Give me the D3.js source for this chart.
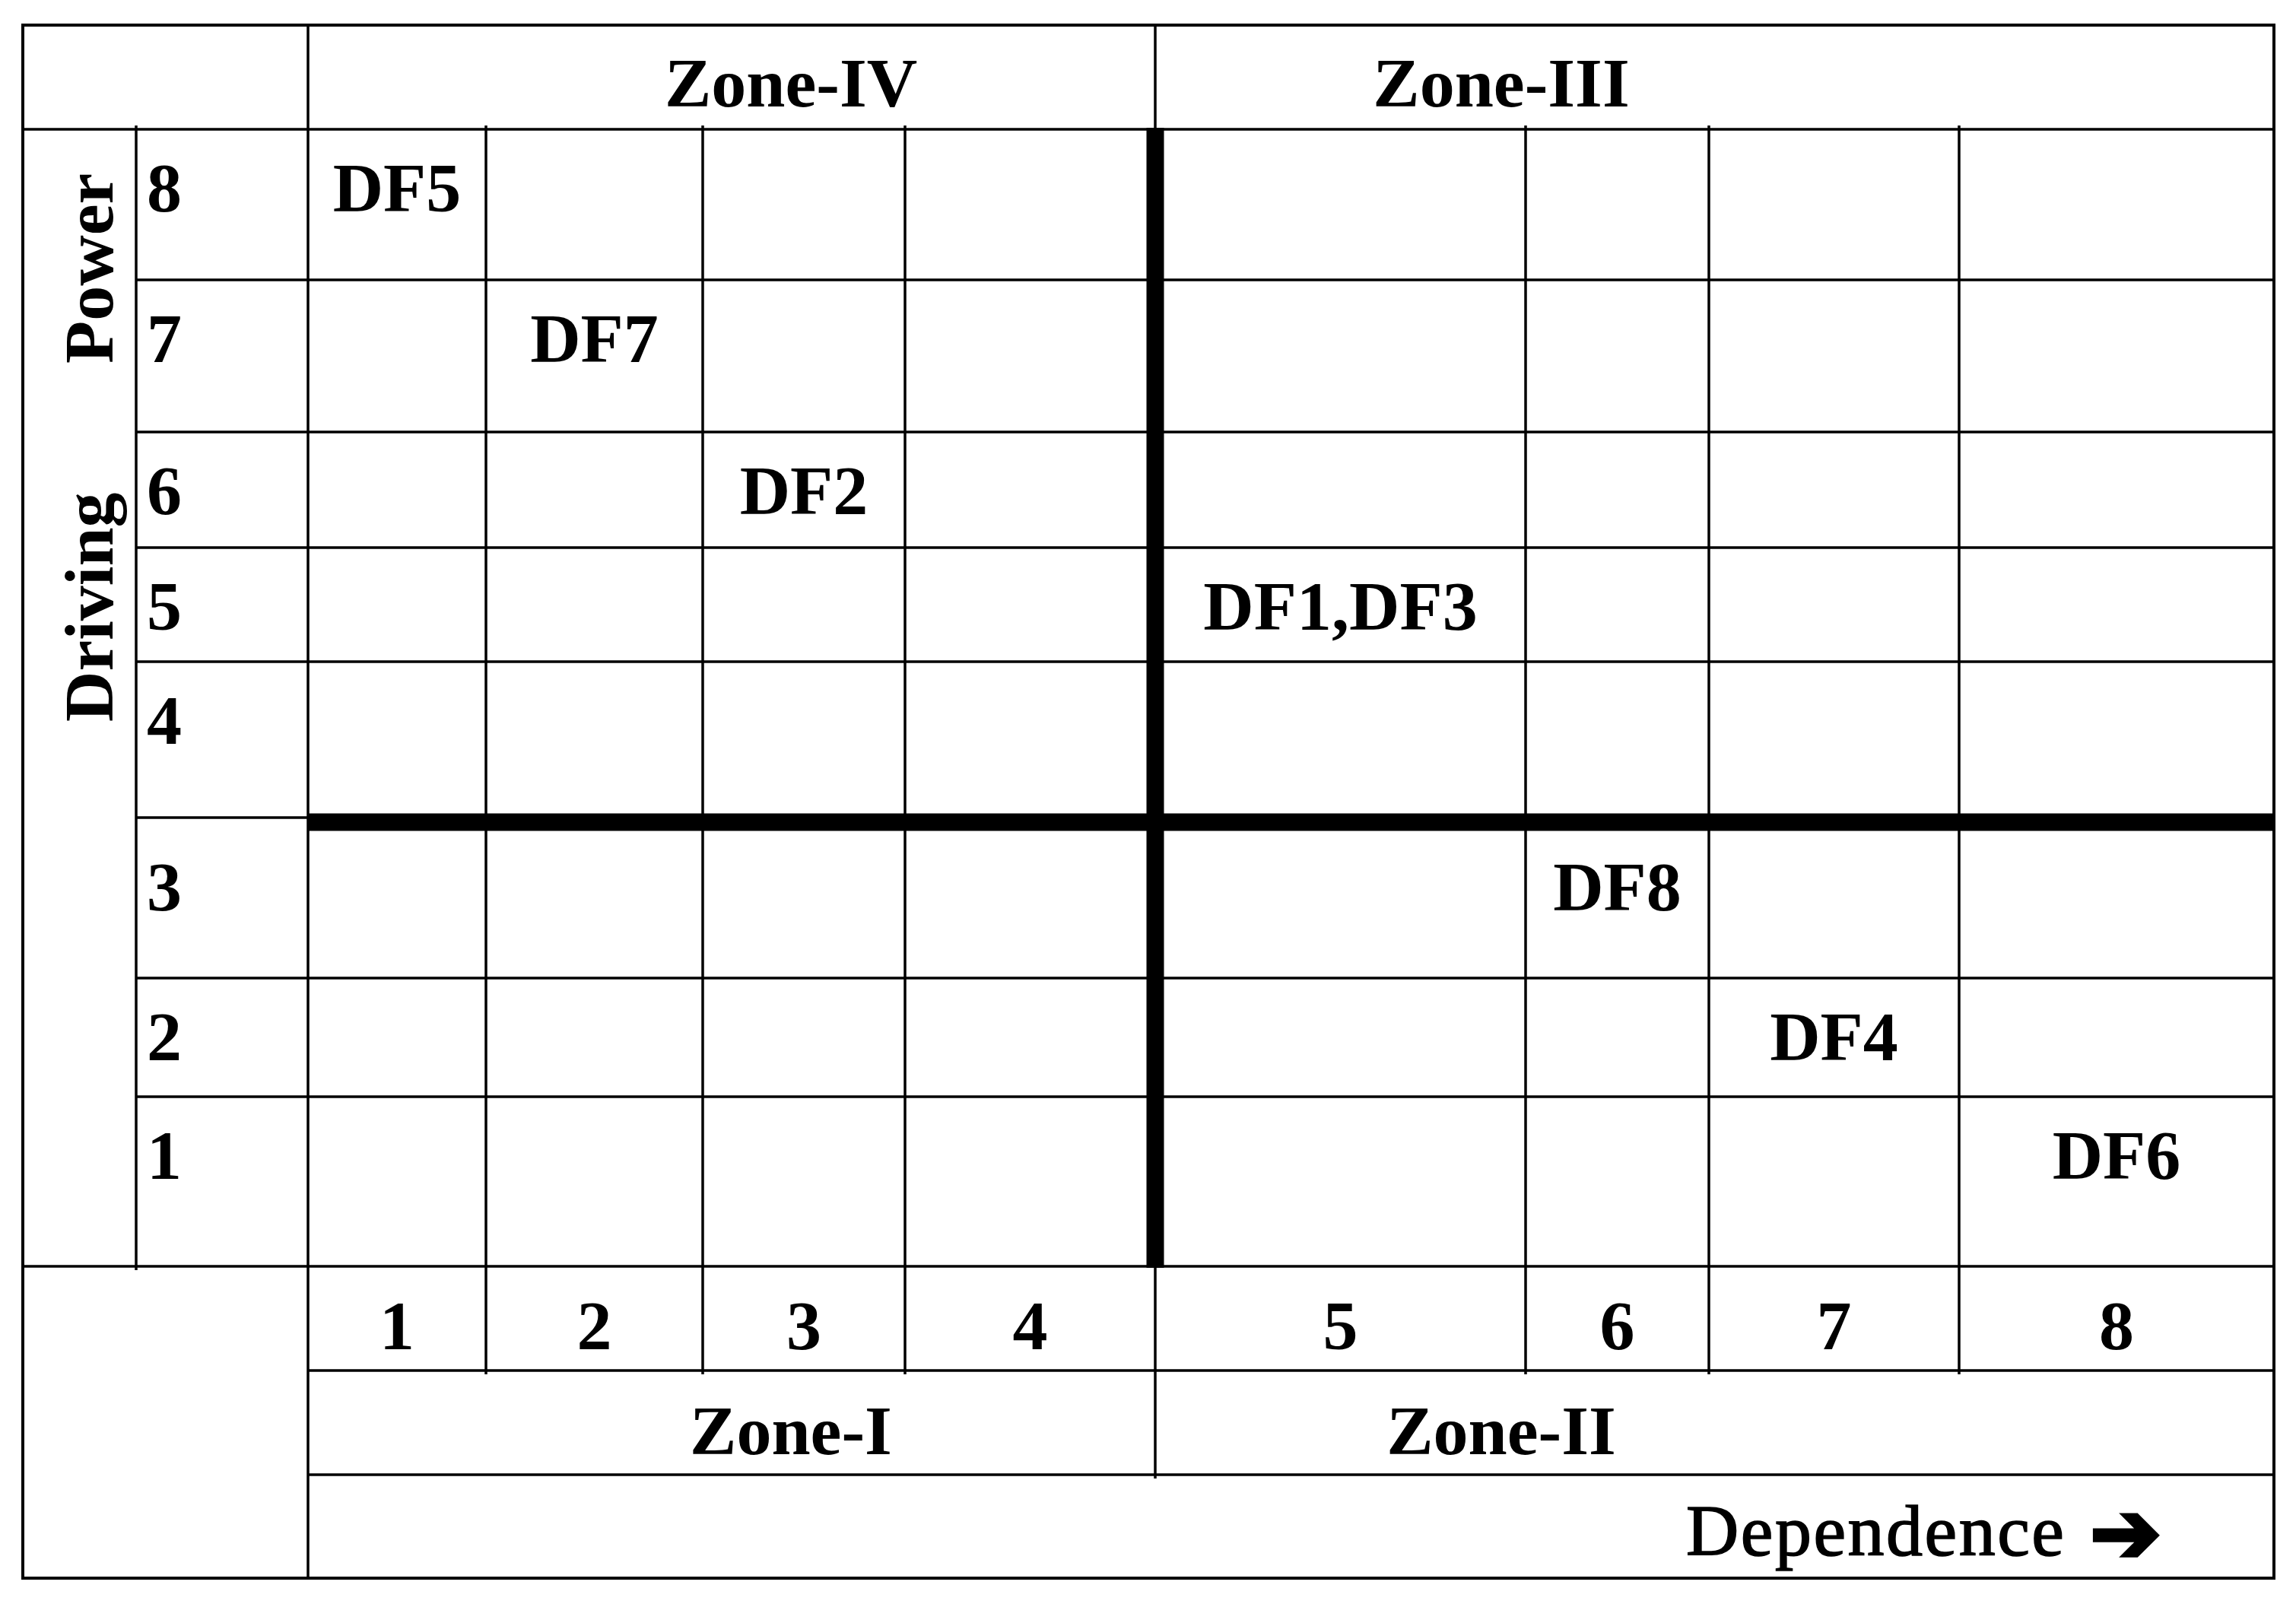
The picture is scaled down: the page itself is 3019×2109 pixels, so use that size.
<!DOCTYPE html>
<html>
<head>
<meta charset="utf-8">
<script src="https://cdn.jsdelivr.net/npm/d3@7"></script>
<style>
  html, body { margin: 0; padding: 0; background: #fff; }
  svg { display: block; }
</style>
</head>
<body>
<div id="app"></div>
<script>

//
// Data
//

const drivers = ['DF1', 'DF2', 'DF3', 'DF4', 'DF5', 'DF6', 'DF7', 'DF8']
const dependence = [5, 3, 5, 7, 1, 8, 2, 6]
const drivingPower = [5, 6, 5, 2, 8, 1, 7, 3]

const levels = [1, 2, 3, 4, 5, 6, 7, 8]
const zonesTop = ['Zone-IV', 'Zone-III']
const zonesBottom = ['Zone-I', 'Zone-II']
const xTitle = 'Dependence'
const yTitle = ['Driving', 'Power']


//
// Constants (layout only)
//

const width = 3019
const height = 2109
const frame = { left: 30, right: 2990, top: 33, bottom: 2075 }
const labelColX = 179   // line right of the rotated title
const headerColX = 405  // line left of the grid
const numRowBottom = 1802
const zoneRowBottom = 1939
const xSplit = 4.5 // dependence split
const ySplit = 3.5 // driving power split
const thin = 3.5
const thick = 23
const fontSize = 92
const serif = '"Liberation Serif", "Times New Roman", serif'

// the table cells are not equal, so the scales are piecewise
const colEdges = [405, 639, 924, 1190, 1519, 2006, 2247, 2576, 2990]
const rowEdges = [170, 368, 568, 720, 870, 1081, 1286, 1442, 1665]


//
// Scales
//

const x = d3.scaleLinear()
  .domain(d3.range(colEdges.length).map(i => i + 0.5))
  .range(colEdges)

const y = d3.scaleLinear()
  .domain(d3.range(rowEdges.length).map(i => 8.5 - i))
  .range(rowEdges)

// baseline of a text in a row, measured from the line above it
const rowBaseline = v => y(v + 0.5) + (v + 0.5 === ySplit ? 116 : 108)


//
// Chart
//

const svg = d3.select('#app').append('svg')
  .attr('width', width)
  .attr('height', height)
  .style('font-family', serif)

svg.append('rect')
  .attr('width', width)
  .attr('height', height)
  .attr('fill', '#fff')

const lines = []
const hline = (y0, x1, x2, w = thin) => lines.push({ x1, x2, y1: y0, y2: y0, w })
const vline = (x0, y1, y2, w = thin) => lines.push({ x1: x0, x2: x0, y1, y2, w })

// rows
levels.slice(0, -1).forEach(v => {
  const yy = y(v + 0.5)
  if (v + 0.5 === ySplit) {
    hline(yy - 6, labelColX, headerColX)
    hline(yy, headerColX, frame.right, thick)
  } else {
    hline(yy, labelColX, frame.right)
  }
})
hline(y(8.5), frame.left, frame.right)
hline(y(0.5), frame.left, frame.right)
hline(numRowBottom, headerColX, frame.right)
hline(zoneRowBottom, headerColX, frame.right)

// columns
vline(labelColX, y(8.5) - 5, y(0.5) + 5)
vline(headerColX, frame.top, frame.bottom)
levels.slice(0, -1).forEach(v => {
  const xx = x(v + 0.5)
  if (v + 0.5 === xSplit) {
    vline(xx, frame.top, y(8.5))
    vline(xx, y(8.5) - 2, y(0.5) + 2, thick)
    vline(xx, y(0.5), zoneRowBottom + 5)
  } else {
    vline(xx, y(8.5) - 5, numRowBottom + 5)
  }
})

svg.append('g')
  .attr('stroke', '#000')
  .selectAll('line').data(lines)
  .join('line')
  .attr('x1', d => d.x1)
  .attr('x2', d => d.x2)
  .attr('y1', d => d.y1)
  .attr('y2', d => d.y2)
  .attr('stroke-width', d => d.w)

// outer frame
svg.append('rect')
  .attr('x', frame.left)
  .attr('y', frame.top)
  .attr('width', frame.right - frame.left)
  .attr('height', frame.bottom - frame.top)
  .attr('fill', 'none')
  .attr('stroke', '#000')
  .attr('stroke-width', 4)

const text = svg.append('g')
  .attr('font-size', fontSize)
  .attr('font-weight', 'bold')
  .attr('fill', '#000')

// row labels (driving power)
text.selectAll('.row-label').data(levels)
  .join('text')
  .attr('class', 'row-label')
  .attr('x', 193)
  .attr('y', rowBaseline)
  .text(d => d)

// column labels (dependence)
text.selectAll('.col-label').data(levels)
  .join('text')
  .attr('class', 'col-label')
  .attr('text-anchor', 'middle')
  .attr('x', d => x(d))
  .attr('y', 1774)
  .text(d => d)

// zone labels
const zoneX = [1040, 1974]
text.selectAll('.zone-top').data(zonesTop)
  .join('text')
  .attr('class', 'zone-top')
  .attr('text-anchor', 'middle')
  .attr('x', (d, i) => zoneX[i])
  .attr('y', 140)
  .text(d => d)

text.selectAll('.zone-bottom').data(zonesBottom)
  .join('text')
  .attr('class', 'zone-bottom')
  .attr('text-anchor', 'middle')
  .attr('x', (d, i) => zoneX[i])
  .attr('y', 1912)
  .text(d => d)

// drivers, several in one cell are joined with a comma
const cells = d3.groups(drivers.map((name, i) => ({
  name, dep: dependence[i], pow: drivingPower[i]
})), d => `${d.dep}_${d.pow}`)
  .map(([, ds]) => ({ dep: ds[0].dep, pow: ds[0].pow, label: ds.map(d => d.name).join(',') }))

text.selectAll('.driver').data(cells)
  .join('text')
  .attr('class', 'driver')
  .attr('text-anchor', 'middle')
  .attr('x', d => x(d.dep))
  .attr('y', d => rowBaseline(d.pow))
  .text(d => d.label)

// y title, rotated
const yt = text.append('text')
  .attr('transform', 'translate(148, 949) rotate(-90)')
yt.append('tspan').attr('x', 0).text(yTitle[0])
yt.append('tspan').attr('x', 471).text(yTitle[1])

// x title with arrow
svg.append('text')
  .attr('x', 2217)
  .attr('y', 2045)
  .attr('font-size', 96)
  .attr('letter-spacing', 2.5)
  .attr('stroke', '#000')
  .attr('stroke-width', 1.6)
  .text(xTitle)

svg.append('text')
  .attr('x', 2748)
  .attr('y', 2054)
  .attr('font-family', '"DejaVu Sans", sans-serif')
  .attr('font-size', 112)
  .attr('font-weight', 'bold')
  .attr('stroke', '#000')
  .attr('stroke-width', 5)
  .attr('stroke-linejoin', 'miter')
  .text('\u2794')

</script>
</body>
</html>
